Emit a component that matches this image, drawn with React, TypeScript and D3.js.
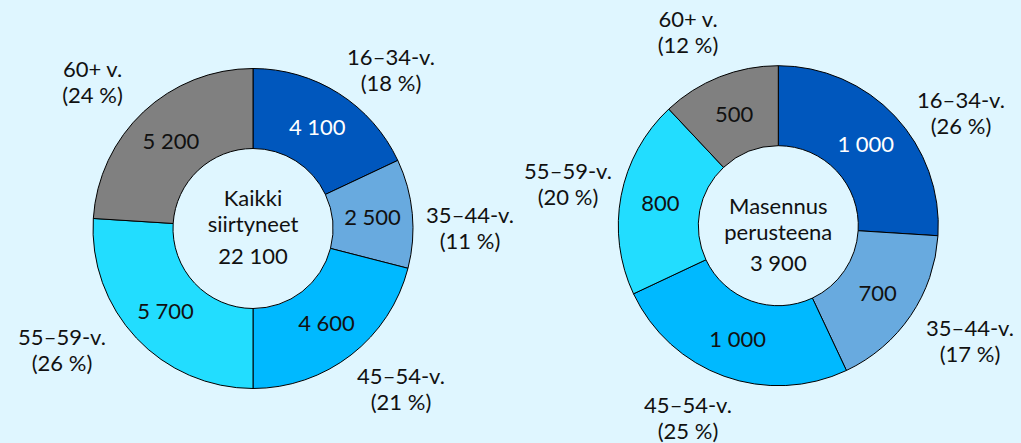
import React from 'react';
import * as d3 from 'd3';

// ---- data ----
const ageGroups = ['16–34-v.', '35–44-v.', '45–54-v.', '55–59-v.', '60+ v.'];
const allValues = [4100, 2500, 4600, 5700, 5200];
const allPct = [18, 11, 21, 26, 24];
const allTotal = 22100;
const allTitle = ['Kaikki', 'siirtyneet'];
const depValues = [1000, 700, 1000, 800, 500];
const depPct = [26, 17, 25, 20, 12];
const depTotal = 3900;
const depTitle = ['Masennus', 'perusteena'];

// ---- layout / style ----
const W = 1021;
const H = 443;
const BG = '#DFF6FF';
const COLORS = ['#0057BD', '#68AADF', '#00B9FF', '#22DDFF', '#808080'];
const VALUE_FILLS = ['#FFFFFF', '#111111', '#111111', '#111111', '#111111'];
const FONT = 'Lato, "Open Sans", sans-serif';
const FS = 22;
const LINE = 26;
const R_OUT = 160;
const R_IN = 80;

const fmt = (v: number) => d3.format(',')(v).replace(/,/g, ' ');

const charts = [
  {
    cx: 253,
    cy: 228.5,
    values: allValues,
    pct: allPct,
    total: allTotal,
    title: allTitle,
    titleBase: -22.5,
    labelOffsets: [
      [138, -163.5],
      [217, -5.5],
      [148, 155.5],
      [-191, 116.5],
      [-160.5, -151.5],
    ],
  },
  {
    cx: 778.3,
    cy: 225.7,
    values: depValues,
    pct: depPct,
    total: depTotal,
    title: depTitle,
    titleBase: -11.7,
    labelOffsets: [
      [182.7, -117.4],
      [191.7, 110.3],
      [-90.3, 187.3],
      [-210.3, -46.4],
      [-90.3, -199],
    ],
  },
];

function Donut({ c }: { c: (typeof charts)[number] }) {
  const items = ageGroups.map((g, i) => ({ g, i, v: c.values[i], p: c.pct[i] }));
  const pie = d3
    .pie<(typeof items)[number]>()
    .sort(null)
    .value((d) => d.p)
    .startAngle(0)
    .endAngle(2 * Math.PI);
  const arcs = pie(items);
  const arc = d3.arc<d3.PieArcDatum<(typeof items)[number]>>().innerRadius(R_IN).outerRadius(R_OUT);
  return (
    <g transform={`translate(${c.cx},${c.cy})`}>
      {arcs.map((a) => (
        <path key={a.data.g} d={arc(a) || ''} fill={COLORS[a.index]} stroke="#000" strokeWidth={1} />
      ))}
      {arcs.map((a) => {
        const [x, y] = arc.centroid(a);
        return (
          <text
            key={'v' + a.data.g}
            x={x}
            y={y + 8}
            textAnchor="middle"
            fill={VALUE_FILLS[a.index]}
            fontSize={FS}
          >
            {fmt(a.data.v)}
          </text>
        );
      })}
      {arcs.map((a) => {
        const [ox, oy] = c.labelOffsets[a.index];
        return (
          <text key={'l' + a.data.g} x={ox} y={oy} textAnchor="middle" fill="#111" fontSize={FS}>
            <tspan x={ox}>{a.data.g}</tspan>
            <tspan x={ox} dy={LINE}>{`(${a.data.p} %)`}</tspan>
          </text>
        );
      })}
      <text x={0} y={c.titleBase} textAnchor="middle" fill="#111" fontSize={FS}>
        <tspan x={0}>{c.title[0]}</tspan>
        <tspan x={0} dy={LINE}>{c.title[1]}</tspan>
        <tspan x={0} dy={LINE + 5.5}>{fmt(c.total)}</tspan>
      </text>
    </g>
  );
}

export default function App() {
  return (
    <svg
      width={W}
      height={H}
      viewBox={`0 0 ${W} ${H}`}
      style={{ position: 'absolute', left: 0, top: 0, display: 'block' }}
      fontFamily={FONT}
    >
      <rect x={0} y={0} width={W} height={H} fill={BG} />
      {charts.map((c, i) => (
        <Donut key={i} c={c} />
      ))}
    </svg>
  );
}
